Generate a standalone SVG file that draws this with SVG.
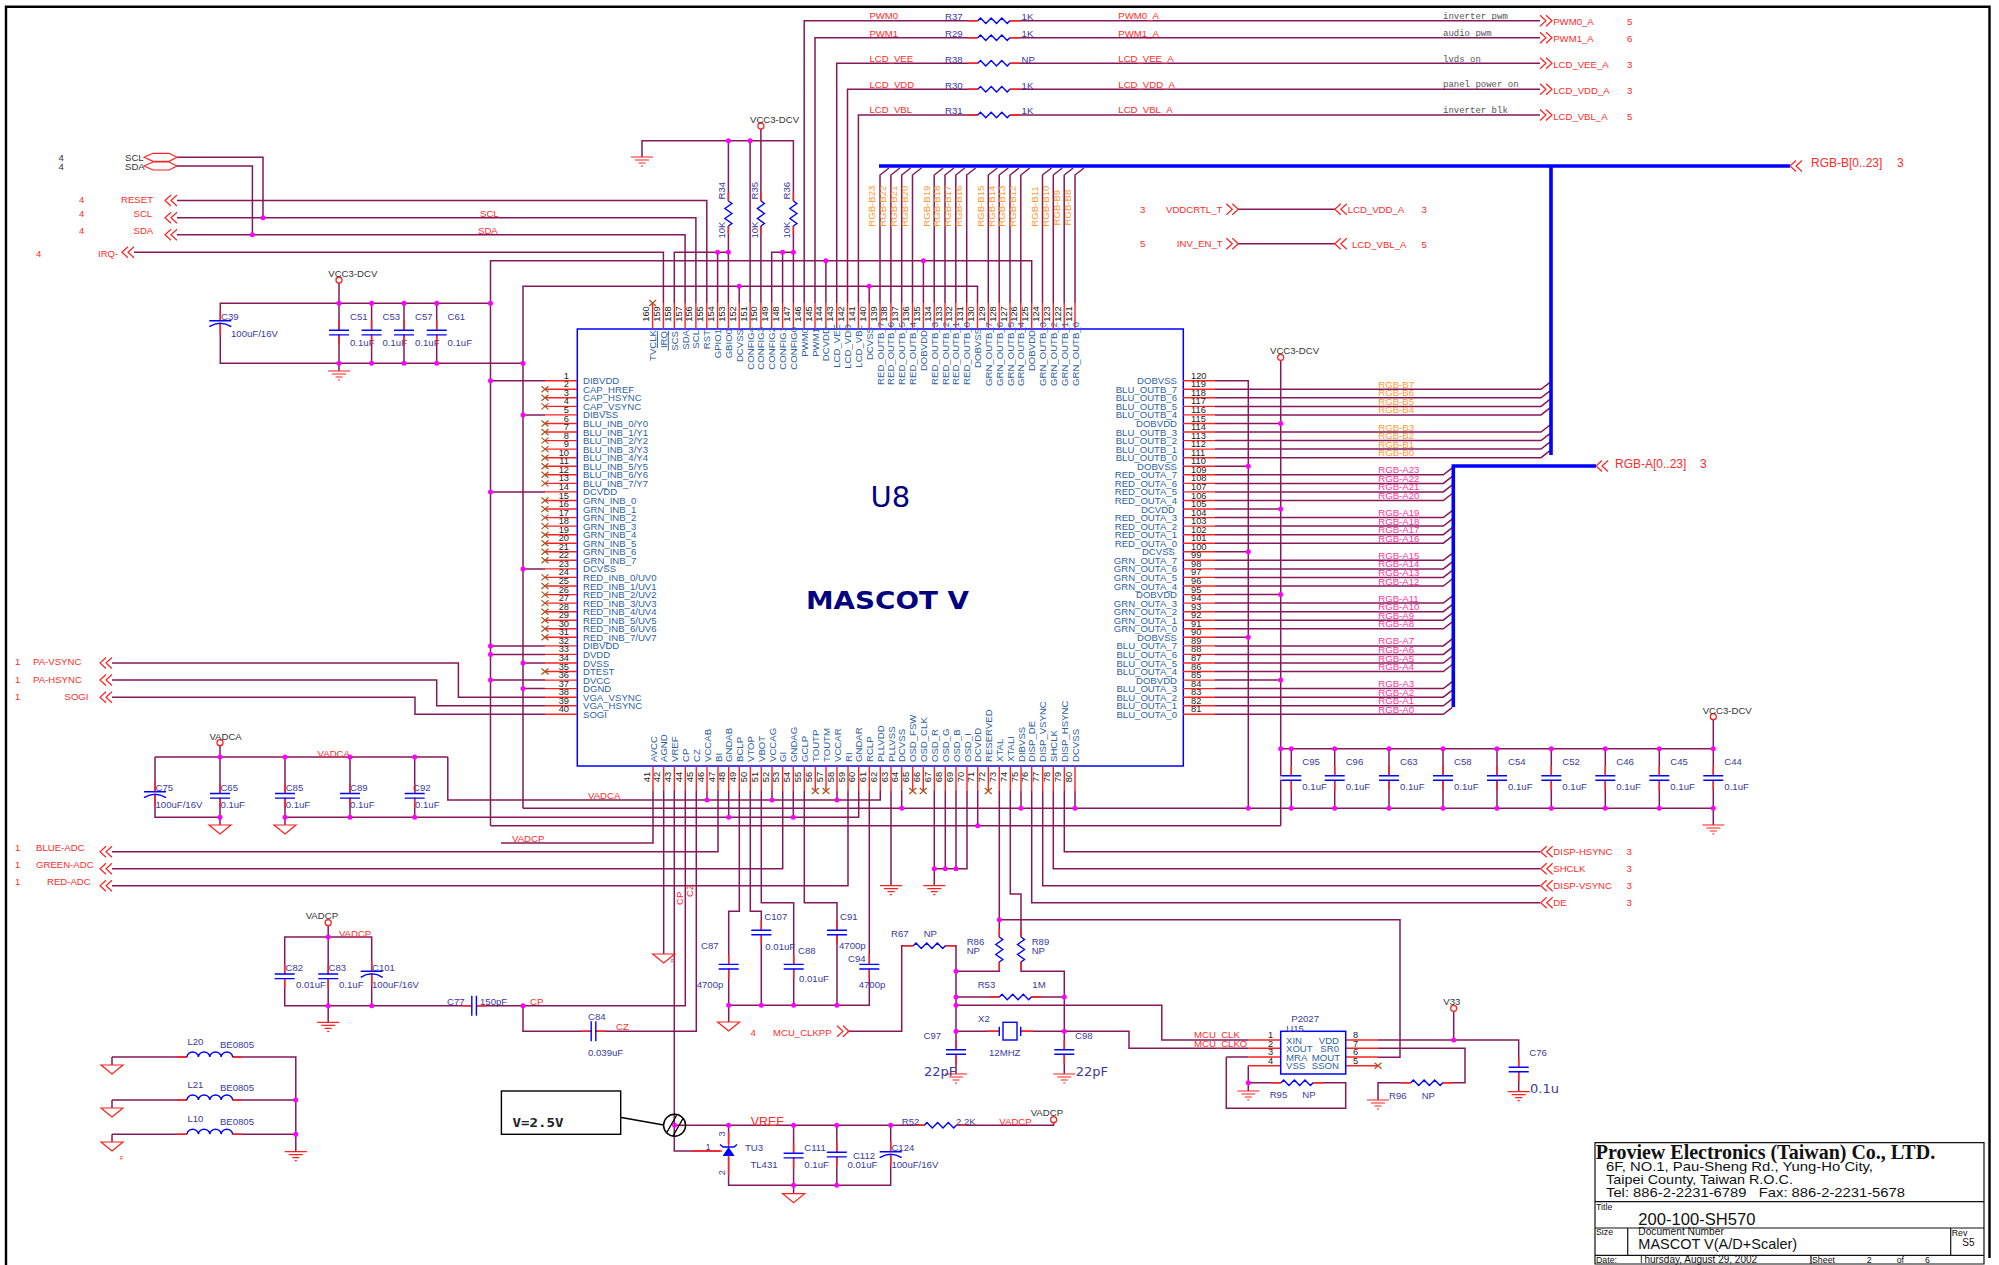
<svg xmlns="http://www.w3.org/2000/svg" width="1999" height="1265" viewBox="0 0 1999 1265">
<style>
text{font-family:"Liberation Sans",Arial,sans-serif;font-size:9.6px;dominant-baseline:central;fill:#2f5f9f}
.n text,text.n{font-size:9.3px;fill:#222}
.r text,text.r{fill:#ff2a2a}
.p text,text.p{fill:#3a3a9c}
.k text,text.k{fill:#333}
.o text,text.o{fill:#ff9a33}
.h text,text.h{fill:#ff3399}
.m text,text.m{font-family:"Liberation Mono",monospace;font-size:9px;fill:#555}
.big{font-family:"DejaVu Sans",sans-serif;font-size:13px;fill:#2a2a9c}
.w{fill:none;stroke:#85185a;stroke-width:1.5}
.s{fill:none;stroke:#ff2020;stroke-width:1.4}
.b{fill:none;stroke:#0000ff;stroke-width:1.4}
.bus{fill:none;stroke:#0000ff;stroke-width:3.6}
.d{fill:none;stroke:#ff00ff;stroke-width:5;stroke-linecap:round}
.blk{fill:none;stroke:#000;stroke-width:1.4}
.fr{fill:none;stroke:#000;stroke-width:2.4}
.tb{fill:none;stroke:#111;stroke-width:1.2}
.tt text{fill:#111}
</style>
<defs>
<g id="c"><rect x="-11" y="-2" width="22" height="4" fill="#fff"/><path class="s" d="M0,-12V-2M0,2V12"/><path class="b" d="M-10,-2.3H10M-10,2.3H10"/></g>
<g id="e"><rect x="-11" y="0" width="22" height="3" fill="#fff"/><path class="s" d="M0,-10V0M0,3V14"/><path class="b" d="M-11,0H11M-11,6Q0,-1 11,6"/></g>
<g id="rh"><rect x="0" y="-3" width="32" height="6" fill="#fff"/><path class="s" d="M-10,0H0M32,0H42"/><path class="b" d="M0,0L2.7,-2.7L8,2.7L13.4,-2.7L18.7,2.7L24,-2.7L29.4,2.7L32,0"/></g>
<g id="rv"><rect x="-4" y="0" width="8" height="25" fill="#fff"/><path class="s" d="M0,-8V0M0,25V33"/><path class="b" d="M0,0L3.5,2.5L-3.5,7.5L3.5,12.5L-3.5,17.5L3.5,22.5L0,25"/></g>
<g id="l"><rect x="0" y="-6" width="45.6" height="7" fill="#fff"/><path class="s" d="M-10,0H0M45.6,0H55"/><path class="b" d="M0,0a5.7,5 0 0 1 11.4,0a5.7,5 0 0 1 11.4,0a5.7,5 0 0 1 11.4,0a5.7,5 0 0 1 11.4,0"/></g>
<path id="g" fill="none" stroke="#ff2020" stroke-width="1.2" d="M-11,0H11M-7,3H7M-3.5,6H3.5M-1,9H1"/>
<path id="t" fill="none" stroke="#ff2020" stroke-width="1.2" d="M-11,0H11L0,9Z"/>
<circle id="v" r="3" fill="#fff" stroke="#ff2020" stroke-width="1.3"/>
<path id="x" fill="none" stroke="#a8551a" stroke-width="1.2" d="M-3.5,-3L3.5,3M-3.5,3L3.5,-3"/>
<path id="al" fill="none" stroke="#ff2020" stroke-width="1.2" d="M6,-5.5L0,0L6,5.5M12,-5.5L6,0L12,5.5"/>
<path id="ar" fill="none" stroke="#ff2020" stroke-width="1.2" d="M0,-5.5L6,0L0,5.5M6,-5.5L12,0L6,5.5"/>
</defs>

<path id="frame" class="fr" d="M6,1265V6.7H1989.5V1258"/>

<g id="connectors">
<path class="w" d="M177,157.3H263V217.7M177,166H252.4V234.7M177,200.5H706.8V303M177,217.7H695.9V303M177,234.7H685.1V303M134,252.3H663.4V303M674.3,303V252.3H728.4M717.6,303V252.3M642,157V140.7H793.4V303M728.4,303V140.7M750.1,140.7V303M760.9,129V303M771.7,303V252.3H793.4M782.6,303V252.3"/>
<path class="w" d="M804.2,303V20.7H1540M815,303V37.7H1540M836.7,303V63.3H1540M847.5,303V89.3H1540M858.4,303V115H1540M1238,209.3H1335M1238,243.7H1335"/>
<path class="w" d="M523,808.3V286.3H977.5V303M739.2,286.3V303M869.2,286.3V303M490.5,825.7V260.7H1031.7V303M825.9,260.7V303M923.4,260.7V303M490.5,303.3H220.3V363.3H523M339,283V371M371.6,303.3V363.3M404,303.3V363.3M436.7,303.3V363.3"/>
<path class="w" d="M880,303V175l9,-7M890.9,303V175l9,-7M901.7,303V175l9,-7M912.5,303V175l9,-7M934.2,303V175l9,-7M945,303V175l9,-7M955.8,303V175l9,-7M966.7,303V175l9,-7M988.3,303V175l9,-7M999.2,303V175l9,-7M1010,303V175l9,-7M1020.8,303V175l9,-7M1042.5,303V175l9,-7M1053.3,303V175l9,-7M1064.2,303V175l9,-7M1075,303V175l9,-7"/>
<path class="w" d="M490.5,380.7H545M523,414.9H545M490.5,491.9H545M523,568.9H545M490.5,645.9H545M490.5,654.4H545M523,663H545M490.5,680.1H545M523,688.6H545M112,663H458.4V697.2H545M112,680H436.7V705.8H545M112,697.3H415V714.3H545"/>
<path class="w" d="M1215,380.7H1248.3V808.3M1215,466.2H1248.3M1215,551.8H1248.3M1215,637.3H1248.3M1280.7,360V825.7M1215,423.5H1280.7M1215,509H1280.7M1215,594.6H1280.7M1215,680.1H1280.7"/>
<path class="w" d="M1215,389.3H1541l9,-7M1215,397.8H1541l9,-7M1215,406.4H1541l9,-7M1215,414.9H1541l9,-7M1215,432H1541l9,-7M1215,440.6H1541l9,-7M1215,449.1H1541l9,-7M1215,457.7H1541l9,-7"/>
<path class="w" d="M1215,474.8H1443.3l9,-7M1215,483.4H1443.3l9,-7M1215,491.9H1443.3l9,-7M1215,500.5H1443.3l9,-7M1215,517.6H1443.3l9,-7M1215,526.1H1443.3l9,-7M1215,534.7H1443.3l9,-7M1215,543.2H1443.3l9,-7M1215,560.3H1443.3l9,-7M1215,568.9H1443.3l9,-7M1215,577.4H1443.3l9,-7M1215,586H1443.3l9,-7M1215,603.1H1443.3l9,-7M1215,611.7H1443.3l9,-7M1215,620.2H1443.3l9,-7M1215,628.8H1443.3l9,-7M1215,645.9H1443.3l9,-7M1215,654.4H1443.3l9,-7M1215,663H1443.3l9,-7M1215,671.5H1443.3l9,-7M1215,688.6H1443.3l9,-7M1215,697.2H1443.3l9,-7M1215,705.8H1443.3l9,-7M1215,714.3H1443.3l9,-7"/>
<path class="bus" d="M879,166H1790M1551,166V455M1596,466H1453.3V707"/>
<path class="w" d="M1248.3,808.3H1713.3M1280.7,748.7H1713.3M1713.3,719.7V825M1291.3,748.7V808.3M1334.7,748.7V808.3M1389,748.7V808.3M1443,748.7V808.3M1497,748.7V808.3M1551.3,748.7V808.3M1605.3,748.7V808.3M1659.3,748.7V808.3"/>
<path class="w" d="M523,808.3H1248.3M490.5,825.7H1280.7M901.7,791V808.3M1021,791V808.3M1075,791V808.3M977.7,791V825.7"/>
<path class="w" d="M653,791V843H501M663.7,791V954M674.3,791V1151H728.6M685.3,791V1005.7H284.7V937H371.7V1005.7M696.3,791V1031.3H523V1005.7M328.2,926V1022M718,791V851.7H112M782.7,791V868.7H112M848,791V885.7H112"/>
<path class="w" d="M447.8,757V800H880.3V791M707,791V800M772,791V800M837,791V800M155,757H447.8M155,757V817.3H220M220,746V825M285,757V825M350,757V817.3M414.7,757V817.3M285,817.3H858.7V791M728.7,791V817.3M793.3,791V817.3"/>
<path class="w" d="M739.3,791V911.3H728.7V1022M750.3,791V911.3H761.3V1005.3M761.3,791V902.7H793.7V1005.3M804.3,791V902.7H837V1005.3M869.3,791V1005.3H728.7M891,791V885.7M934.3,791V885.7M945.3,791V868.7M956,791V868.7M967,791V868.7H934.3"/>
<path class="w" d="M999.3,791V971.3H956M999.3,919.7H1400V1057.3H1378M1010.3,791V894H1021V971.3H1064.3V1074M1031.7,791V902.7H1540M1042.7,791V885.7H1540M1053.3,791V868.7H1540M1064.3,791V851.7H1540M847.5,1031.3H901.7V945.7H956V1074M956,997H1064.3M956,1005.3H1161.8V1040H1248.3M956,1031.3H999M1020.7,1031.3H1129V1048.3H1248.3M1226.3,1057H1248.3M1226.3,1057V1108.3H1345.7V1082.7H1248.3M1248.3,1065.7V1091M1378,1040H1518.7V1091.7M1453.7,1011V1040M1378,1048.3H1465V1082.7H1378V1100"/>
<path class="w" d="M674.6,1125.3H1053.6V1122M728.6,1125.3V1185.3H890.7V1125.3M793.6,1125.3V1193.7M836.8,1125.3V1185.3M112,1057H295.8V1151.7M112,1100H295.8M112,1134.3H295.8M112,1057V1065M112,1100V1108M112,1134.3V1142"/>
<path class="d" d="M263,217.7h0M252.4,234.7h0M717.6,252.3h0M728.4,252.3h0M728.4,140.7h0M750.1,140.7h0M782.6,252.3h0M793.4,252.3h0M739.2,286.3h0M869.2,286.3h0M825.9,260.7h0M923.4,260.7h0M339,303.3h0M371.6,303.3h0M404,303.3h0M436.7,303.3h0M490.5,303.3h0M339,363.3h0M371.6,363.3h0M404,363.3h0M436.7,363.3h0M523,363.3h0M490.5,380.7h0M523,414.9h0M490.5,491.9h0M523,568.9h0M490.5,645.9h0M490.5,654.4h0M523,663h0M490.5,680.1h0M523,688.6h0M1248.3,466.2h0M1248.3,551.8h0M1248.3,637.3h0M1280.7,423.5h0M1280.7,509h0M1280.7,594.6h0M1280.7,680.1h0"/>
<path class="d" d="M1280.7,748.7h0M1291.3,748.7h0M1334.7,748.7h0M1389,748.7h0M1443,748.7h0M1497,748.7h0M1551.3,748.7h0M1605.3,748.7h0M1659.3,748.7h0M1713.3,748.7h0M1248.3,808.3h0M1291.3,808.3h0M1334.7,808.3h0M1389,808.3h0M1443,808.3h0M1497,808.3h0M1551.3,808.3h0M1605.3,808.3h0M1659.3,808.3h0M1713.3,808.3h0M220,757h0M285,757h0M350,757h0M414.7,757h0M220,817.3h0M285,817.3h0M350,817.3h0M414.7,817.3h0M707,800h0M772,800h0M837,800h0M728.7,817.3h0M793.3,817.3h0M901.7,808.3h0M1021,808.3h0M1075,808.3h0M977.7,825.7h0M934.3,868.7h0M945.3,868.7h0M956,868.7h0M999.3,919.7h0M956,971.3h0M956,997h0M1064.3,997h0M956,1005.3h0M956,1031.3h0M1064.3,1031.3h0M728.7,1005.3h0M761.3,1005.3h0M793.7,1005.3h0M837,1005.3h0M328.2,937h0M328.2,1005.7h0M371.7,1005.7h0M523,1005.7h0M295.8,1100h0M295.8,1134.3h0M674.6,1125.3h0M728.6,1125.3h0M793.6,1125.3h0M836.8,1125.3h0M890.7,1125.3h0M793.6,1185.3h0M836.8,1185.3h0M1248.3,1082.7h0M1453.7,1040h0"/>
</g>

<g id="U8">
<rect x="577.3" y="329" width="606" height="437" fill="none" stroke="#0000ff" stroke-width="1.5"/>
<path class="s" d="M545,380.7H577M545,389.3H577M545,397.8H577M545,406.4H577M545,414.9H577M545,423.5H577M545,432H577M545,440.6H577M545,449.1H577M545,457.7H577M545,466.2H577M545,474.8H577M545,483.4H577M545,491.9H577M545,500.5H577M545,509H577M545,517.6H577M545,526.1H577M545,534.7H577M545,543.2H577M545,551.8H577M545,560.3H577M545,568.9H577M545,577.4H577M545,586H577M545,594.6H577M545,603.1H577M545,611.7H577M545,620.2H577M545,628.8H577M545,637.3H577M545,645.9H577M545,654.4H577M545,663H577M545,671.5H577M545,680.1H577M545,688.6H577M545,697.2H577M545,705.8H577M545,714.3H577"/>
<path class="s" d="M1183,380.7H1215M1183,389.3H1215M1183,397.8H1215M1183,406.4H1215M1183,414.9H1215M1183,423.5H1215M1183,432H1215M1183,440.6H1215M1183,449.1H1215M1183,457.7H1215M1183,466.2H1215M1183,474.8H1215M1183,483.4H1215M1183,491.9H1215M1183,500.5H1215M1183,509H1215M1183,517.6H1215M1183,526.1H1215M1183,534.7H1215M1183,543.2H1215M1183,551.8H1215M1183,560.3H1215M1183,568.9H1215M1183,577.4H1215M1183,586H1215M1183,594.6H1215M1183,603.1H1215M1183,611.7H1215M1183,620.2H1215M1183,628.8H1215M1183,637.3H1215M1183,645.9H1215M1183,654.4H1215M1183,663H1215M1183,671.5H1215M1183,680.1H1215M1183,688.6H1215M1183,697.2H1215M1183,705.8H1215M1183,714.3H1215"/>
<path class="s" d="M652.6,303V329M663.4,303V329M674.3,303V329M685.1,303V329M695.9,303V329M706.8,303V329M717.6,303V329M728.4,303V329M739.2,303V329M750.1,303V329M760.9,303V329M771.7,303V329M782.6,303V329M793.4,303V329M804.2,303V329M815,303V329M825.9,303V329M836.7,303V329M847.5,303V329M858.4,303V329M869.2,303V329M880,303V329M890.9,303V329M901.7,303V329M912.5,303V329M923.4,303V329M934.2,303V329M945,303V329M955.8,303V329M966.7,303V329M977.5,303V329M988.3,303V329M999.2,303V329M1010,303V329M1020.8,303V329M1031.7,303V329M1042.5,303V329M1053.3,303V329M1064.2,303V329M1075,303V329"/>
<path class="s" d="M653,766V791M663.7,766V791M674.3,766V791M685.3,766V791M696.3,766V791M707,766V791M718,766V791M728.7,766V791M739.3,766V791M750.3,766V791M761.3,766V791M772,766V791M782.7,766V791M793.3,766V791M804.3,766V791M815.3,766V791M826,766V791M837,766V791M848,766V791M858.7,766V791M869.3,766V791M880.3,766V791M891,766V791M901.7,766V791M912.7,766V791M923.3,766V791M934.3,766V791M945.3,766V791M956,766V791M967,766V791M977.7,766V791M988.3,766V791M999.3,766V791M1010.3,766V791M1021,766V791M1031.7,766V791M1042.7,766V791M1053.3,766V791M1064.3,766V791M1075,766V791"/>
<g id="U8-nc">
<use href="#x" x="545" y="389.3"/><use href="#x" x="545" y="397.8"/><use href="#x" x="545" y="406.4"/><use href="#x" x="545" y="423.5"/><use href="#x" x="545" y="432"/><use href="#x" x="545" y="440.6"/><use href="#x" x="545" y="449.1"/><use href="#x" x="545" y="457.7"/><use href="#x" x="545" y="466.2"/><use href="#x" x="545" y="474.8"/><use href="#x" x="545" y="483.4"/><use href="#x" x="545" y="500.5"/><use href="#x" x="545" y="509"/><use href="#x" x="545" y="517.6"/><use href="#x" x="545" y="526.1"/><use href="#x" x="545" y="534.7"/><use href="#x" x="545" y="543.2"/><use href="#x" x="545" y="551.8"/><use href="#x" x="545" y="560.3"/><use href="#x" x="545" y="577.4"/><use href="#x" x="545" y="586"/><use href="#x" x="545" y="594.6"/><use href="#x" x="545" y="603.1"/><use href="#x" x="545" y="611.7"/><use href="#x" x="545" y="620.2"/><use href="#x" x="545" y="628.8"/><use href="#x" x="545" y="637.3"/><use href="#x" x="545" y="671.5"/>
<use href="#x" x="652.6" y="303"/><use href="#x" x="815.3" y="791"/><use href="#x" x="826" y="791"/><use href="#x" x="912.7" y="791"/><use href="#x" x="923.3" y="791"/><use href="#x" x="988.3" y="791"/><use href="#x" x="1378" y="1065.7"/>
</g>
<g id="U8-left-labels">
<text x="583" y="380.7">DIBVDD</text><text x="583" y="389.3">CAP_HREF</text><text x="583" y="397.8">CAP_HSYNC</text><text x="583" y="406.4">CAP_VSYNC</text><text x="583" y="414.9">DIBVSS</text><text x="583" y="423.5">BLU_INB_0/Y0</text><text x="583" y="432">BLU_INB_1/Y1</text><text x="583" y="440.6">BLU_INB_2/Y2</text><text x="583" y="449.1">BLU_INB_3/Y3</text><text x="583" y="457.7">BLU_INB_4/Y4</text><text x="583" y="466.2">BLU_INB_5/Y5</text><text x="583" y="474.8">BLU_INB_6/Y6</text><text x="583" y="483.4">BLU_INB_7/Y7</text><text x="583" y="491.9">DCVDD</text><text x="583" y="500.5">GRN_INB_0</text><text x="583" y="509">GRN_INB_1</text><text x="583" y="517.6">GRN_INB_2</text><text x="583" y="526.1">GRN_INB_3</text><text x="583" y="534.7">GRN_INB_4</text><text x="583" y="543.2">GRN_INB_5</text><text x="583" y="551.8">GRN_INB_6</text><text x="583" y="560.3">GRN_INB_7</text><text x="583" y="568.9">DCVSS</text><text x="583" y="577.4">RED_INB_0/UV0</text><text x="583" y="586">RED_INB_1/UV1</text><text x="583" y="594.6">RED_INB_2/UV2</text><text x="583" y="603.1">RED_INB_3/UV3</text><text x="583" y="611.7">RED_INB_4/UV4</text><text x="583" y="620.2">RED_INB_5/UV5</text><text x="583" y="628.8">RED_INB_6/UV6</text><text x="583" y="637.3">RED_INB_7/UV7</text><text x="583" y="645.9">DIBVDD</text><text x="583" y="654.4">DVDD</text><text x="583" y="663">DVSS</text><text x="583" y="671.5">DTEST</text><text x="583" y="680.1">DVCC</text><text x="583" y="688.6">DGND</text><text x="583" y="697.2">VGA_VSYNC</text><text x="583" y="705.8">VGA_HSYNC</text><text x="583" y="714.3">SOGI</text>
</g>
<g id="U8-left-numbers" class="n" text-anchor="end">
<text x="569" y="375.7">1</text><text x="569" y="384.3">2</text><text x="569" y="392.8">3</text><text x="569" y="401.4">4</text><text x="569" y="409.9">5</text><text x="569" y="418.5">6</text><text x="569" y="427">7</text><text x="569" y="435.6">8</text><text x="569" y="444.1">9</text><text x="569" y="452.7">10</text><text x="569" y="461.2">11</text><text x="569" y="469.8">12</text><text x="569" y="478.4">13</text><text x="569" y="486.9">14</text><text x="569" y="495.5">15</text><text x="569" y="504">16</text><text x="569" y="512.6">17</text><text x="569" y="521.1">18</text><text x="569" y="529.7">19</text><text x="569" y="538.2">20</text><text x="569" y="546.8">21</text><text x="569" y="555.3">22</text><text x="569" y="563.9">23</text><text x="569" y="572.4">24</text><text x="569" y="581">25</text><text x="569" y="589.6">26</text><text x="569" y="598.1">27</text><text x="569" y="606.7">28</text><text x="569" y="615.2">29</text><text x="569" y="623.8">30</text><text x="569" y="632.3">31</text><text x="569" y="640.9">32</text><text x="569" y="649.4">33</text><text x="569" y="658">34</text><text x="569" y="666.5">35</text><text x="569" y="675.1">36</text><text x="569" y="683.6">37</text><text x="569" y="692.2">38</text><text x="569" y="700.8">39</text><text x="569" y="709.3">40</text>
</g>
<g id="U8-right-labels" text-anchor="end">
<text x="1177" y="380.7">DOBVSS</text><text x="1177" y="389.3">BLU_OUTB_7</text><text x="1177" y="397.8">BLU_OUTB_6</text><text x="1177" y="406.4">BLU_OUTB_5</text><text x="1177" y="414.9">BLU_OUTB_4</text><text x="1177" y="423.5">DOBVDD</text><text x="1177" y="432">BLU_OUTB_3</text><text x="1177" y="440.6">BLU_OUTB_2</text><text x="1177" y="449.1">BLU_OUTB_1</text><text x="1177" y="457.7">BLU_OUTB_0</text><text x="1177" y="466.2">DOBVSS</text><text x="1177" y="474.8">RED_OUTA_7</text><text x="1177" y="483.4">RED_OUTA_6</text><text x="1177" y="491.9">RED_OUTA_5</text><text x="1177" y="500.5">RED_OUTA_4</text><text x="1175" y="509">DCVDD</text><text x="1177" y="517.6">RED_OUTA_3</text><text x="1177" y="526.1">RED_OUTA_2</text><text x="1177" y="534.7">RED_OUTA_1</text><text x="1177" y="543.2">RED_OUTA_0</text><text x="1175" y="551.8">DCVSS</text><text x="1177" y="560.3">GRN_OUTA_7</text><text x="1177" y="568.9">GRN_OUTA_6</text><text x="1177" y="577.4">GRN_OUTA_5</text><text x="1177" y="586">GRN_OUTA_4</text><text x="1177" y="594.6">DOBVDD</text><text x="1177" y="603.1">GRN_OUTA_3</text><text x="1177" y="611.7">GRN_OUTA_2</text><text x="1177" y="620.2">GRN_OUTA_1</text><text x="1177" y="628.8">GRN_OUTA_0</text><text x="1177" y="637.3">DOBVSS</text><text x="1177" y="645.9">BLU_OUTA_7</text><text x="1177" y="654.4">BLU_OUTA_6</text><text x="1177" y="663">BLU_OUTA_5</text><text x="1177" y="671.5">BLU_OUTA_4</text><text x="1177" y="680.1">DOBVDD</text><text x="1177" y="688.6">BLU_OUTA_3</text><text x="1177" y="697.2">BLU_OUTA_2</text><text x="1177" y="705.8">BLU_OUTA_1</text><text x="1177" y="714.3">BLU_OUTA_0</text>
</g>
<g id="U8-right-numbers" class="n">
<text x="1191" y="375.7">120</text><text x="1191" y="384.3">119</text><text x="1191" y="392.8">118</text><text x="1191" y="401.4">117</text><text x="1191" y="409.9">116</text><text x="1191" y="418.5">115</text><text x="1191" y="427">114</text><text x="1191" y="435.6">113</text><text x="1191" y="444.1">112</text><text x="1191" y="452.7">111</text><text x="1191" y="461.2">110</text><text x="1191" y="469.8">109</text><text x="1191" y="478.4">108</text><text x="1191" y="486.9">107</text><text x="1191" y="495.5">106</text><text x="1191" y="504">105</text><text x="1191" y="512.6">104</text><text x="1191" y="521.1">103</text><text x="1191" y="529.7">102</text><text x="1191" y="538.2">101</text><text x="1191" y="546.8">100</text><text x="1191" y="555.3">99</text><text x="1191" y="563.9">98</text><text x="1191" y="572.4">97</text><text x="1191" y="581">96</text><text x="1191" y="589.6">95</text><text x="1191" y="598.1">94</text><text x="1191" y="606.7">93</text><text x="1191" y="615.2">92</text><text x="1191" y="623.8">91</text><text x="1191" y="632.3">90</text><text x="1191" y="640.9">89</text><text x="1191" y="649.4">88</text><text x="1191" y="658">87</text><text x="1191" y="666.5">86</text><text x="1191" y="675.1">85</text><text x="1191" y="683.6">84</text><text x="1191" y="692.2">83</text><text x="1191" y="700.8">82</text><text x="1191" y="709.3">81</text>
</g>
<g id="U8-top-labels" text-anchor="end">
<text x="652.6" y="330" transform="rotate(-90 652.6 330)">TVCLK</text>
<text x="663.4" y="331" transform="rotate(-90 663.4 331)" text-decoration="overline">IRQ</text>
<text x="674.3" y="331" transform="rotate(-90 674.3 331)" text-decoration="overline">SCS</text>
<text x="685.1" y="330" transform="rotate(-90 685.1 330)">SDA</text>
<text x="695.9" y="330" transform="rotate(-90 695.9 330)">SCL</text>
<text x="706.8" y="330" transform="rotate(-90 706.8 330)">RST</text>
<text x="717.6" y="329" transform="rotate(-90 717.6 329)">GPIO1</text>
<text x="728.4" y="329" transform="rotate(-90 728.4 329)">GBIO0</text>
<text x="739.2" y="329" transform="rotate(-90 739.2 329)">DCVSS</text>
<text x="750.1" y="327" transform="rotate(-90 750.1 327)">CONFIG4</text>
<text x="760.9" y="327" transform="rotate(-90 760.9 327)">CONFIG3</text>
<text x="771.7" y="327" transform="rotate(-90 771.7 327)">CONFIG2</text>
<text x="782.6" y="327" transform="rotate(-90 782.6 327)">CONFIG1</text>
<text x="793.4" y="327" transform="rotate(-90 793.4 327)">CONFIG0</text>
<text x="804.2" y="328" transform="rotate(-90 804.2 328)">PWM0</text>
<text x="815" y="328" transform="rotate(-90 815 328)">PWM1</text>
<text x="825.9" y="327" transform="rotate(-90 825.9 327)">DCVDD</text>
<text x="836.7" y="324" transform="rotate(-90 836.7 324)">LCD_VEE</text>
<text x="847.5" y="324" transform="rotate(-90 847.5 324)">LCD_VDD</text>
<text x="858.4" y="325" transform="rotate(-90 858.4 325)">LCD_VBL</text>
<text x="869.2" y="327" transform="rotate(-90 869.2 327)">DCVSS</text>
<text x="880" y="322" transform="rotate(-90 880 322)">RED_OUTB_7</text>
<text x="890.9" y="322" transform="rotate(-90 890.9 322)">RED_OUTB_6</text>
<text x="901.7" y="322" transform="rotate(-90 901.7 322)">RED_OUTB_5</text>
<text x="912.5" y="322" transform="rotate(-90 912.5 322)">RED_OUTB_4</text>
<text x="923.4" y="330" transform="rotate(-90 923.4 330)">DOBVDD</text>
<text x="934.2" y="322" transform="rotate(-90 934.2 322)">RED_OUTB_3</text>
<text x="945" y="322" transform="rotate(-90 945 322)">RED_OUTB_2</text>
<text x="955.8" y="322" transform="rotate(-90 955.8 322)">RED_OUTB_1</text>
<text x="966.7" y="322" transform="rotate(-90 966.7 322)">RED_OUTB_0</text>
<text x="977.5" y="328" transform="rotate(-90 977.5 328)">DOBVSS</text>
<text x="988.3" y="322" transform="rotate(-90 988.3 322)">GRN_OUTB_7</text>
<text x="999.2" y="322" transform="rotate(-90 999.2 322)">GRN_OUTB_6</text>
<text x="1010" y="322" transform="rotate(-90 1010 322)">GRN_OUTB_5</text>
<text x="1020.8" y="322" transform="rotate(-90 1020.8 322)">GRN_OUTB_4</text>
<text x="1031.7" y="330" transform="rotate(-90 1031.7 330)">DOBVDD</text>
<text x="1042.5" y="322" transform="rotate(-90 1042.5 322)">GRN_OUTB_3</text>
<text x="1053.3" y="322" transform="rotate(-90 1053.3 322)">GRN_OUTB_2</text>
<text x="1064.2" y="322" transform="rotate(-90 1064.2 322)">GRN_OUTB_1</text>
<text x="1075" y="322" transform="rotate(-90 1075 322)">GRN_OUTB_0</text>
</g>
<g id="U8-top-numbers" class="n" text-anchor="middle">
<text x="646.1" y="314" transform="rotate(-90 646.1 314)">160</text><text x="656.9" y="314" transform="rotate(-90 656.9 314)">159</text><text x="667.8" y="314" transform="rotate(-90 667.8 314)">158</text><text x="678.6" y="314" transform="rotate(-90 678.6 314)">157</text><text x="689.4" y="314" transform="rotate(-90 689.4 314)">156</text><text x="700.3" y="314" transform="rotate(-90 700.3 314)">155</text><text x="711.1" y="314" transform="rotate(-90 711.1 314)">154</text><text x="721.9" y="314" transform="rotate(-90 721.9 314)">153</text><text x="732.7" y="314" transform="rotate(-90 732.7 314)">152</text><text x="743.6" y="314" transform="rotate(-90 743.6 314)">151</text><text x="754.4" y="314" transform="rotate(-90 754.4 314)">150</text><text x="765.2" y="314" transform="rotate(-90 765.2 314)">149</text><text x="776.1" y="314" transform="rotate(-90 776.1 314)">148</text><text x="786.9" y="314" transform="rotate(-90 786.9 314)">147</text><text x="797.7" y="314" transform="rotate(-90 797.7 314)">146</text><text x="808.5" y="314" transform="rotate(-90 808.5 314)">145</text><text x="819.4" y="314" transform="rotate(-90 819.4 314)">144</text><text x="830.2" y="314" transform="rotate(-90 830.2 314)">143</text><text x="841" y="314" transform="rotate(-90 841 314)">142</text><text x="851.9" y="314" transform="rotate(-90 851.9 314)">141</text><text x="862.7" y="314" transform="rotate(-90 862.7 314)">140</text><text x="873.5" y="314" transform="rotate(-90 873.5 314)">139</text><text x="884.4" y="314" transform="rotate(-90 884.4 314)">138</text><text x="895.2" y="314" transform="rotate(-90 895.2 314)">137</text><text x="906" y="314" transform="rotate(-90 906 314)">136</text><text x="916.9" y="314" transform="rotate(-90 916.9 314)">135</text><text x="927.7" y="314" transform="rotate(-90 927.7 314)">134</text><text x="938.5" y="314" transform="rotate(-90 938.5 314)">133</text><text x="949.3" y="314" transform="rotate(-90 949.3 314)">132</text><text x="960.2" y="314" transform="rotate(-90 960.2 314)">131</text><text x="971" y="314" transform="rotate(-90 971 314)">130</text><text x="981.8" y="314" transform="rotate(-90 981.8 314)">129</text><text x="992.7" y="314" transform="rotate(-90 992.7 314)">128</text><text x="1003.5" y="314" transform="rotate(-90 1003.5 314)">127</text><text x="1014.3" y="314" transform="rotate(-90 1014.3 314)">126</text><text x="1025.2" y="314" transform="rotate(-90 1025.2 314)">125</text><text x="1036" y="314" transform="rotate(-90 1036 314)">124</text><text x="1046.8" y="314" transform="rotate(-90 1046.8 314)">123</text><text x="1057.7" y="314" transform="rotate(-90 1057.7 314)">122</text><text x="1068.5" y="314" transform="rotate(-90 1068.5 314)">121</text>
</g>
<g id="U8-bottom-labels">
<text x="653" y="762" transform="rotate(-90 653 762)">AVCC</text><text x="663.7" y="762" transform="rotate(-90 663.7 762)">AGND</text><text x="674.3" y="762" transform="rotate(-90 674.3 762)">VREF</text><text x="685.3" y="762" transform="rotate(-90 685.3 762)">CP</text><text x="696.3" y="762" transform="rotate(-90 696.3 762)">CZ</text><text x="707" y="762" transform="rotate(-90 707 762)">VCCAB</text><text x="718" y="762" transform="rotate(-90 718 762)">BI</text><text x="728.7" y="762" transform="rotate(-90 728.7 762)">GNDAB</text><text x="739.3" y="762" transform="rotate(-90 739.3 762)">BCLP</text><text x="750.3" y="762" transform="rotate(-90 750.3 762)">VTOP</text><text x="761.3" y="762" transform="rotate(-90 761.3 762)">VBOT</text><text x="772" y="762" transform="rotate(-90 772 762)">VCCAG</text><text x="782.7" y="762" transform="rotate(-90 782.7 762)">GI</text><text x="793.3" y="762" transform="rotate(-90 793.3 762)">GNDAG</text><text x="804.3" y="762" transform="rotate(-90 804.3 762)">GCLP</text><text x="815.3" y="762" transform="rotate(-90 815.3 762)">TOUTP</text><text x="826" y="762" transform="rotate(-90 826 762)">TOUTM</text><text x="837" y="762" transform="rotate(-90 837 762)">VCCAR</text><text x="848" y="762" transform="rotate(-90 848 762)">RI</text><text x="858.7" y="762" transform="rotate(-90 858.7 762)">GNDAR</text><text x="869.3" y="762" transform="rotate(-90 869.3 762)">RCLP</text><text x="880.3" y="762" transform="rotate(-90 880.3 762)">PLLVDD</text><text x="891" y="762" transform="rotate(-90 891 762)">PLLVSS</text><text x="901.7" y="762" transform="rotate(-90 901.7 762)">DCVSS</text><text x="912.7" y="762" transform="rotate(-90 912.7 762)">OSD_FSW</text><text x="923.3" y="762" transform="rotate(-90 923.3 762)">OSD_CLK</text><text x="934.3" y="762" transform="rotate(-90 934.3 762)">OSD_R</text><text x="945.3" y="762" transform="rotate(-90 945.3 762)">OSD_G</text><text x="956" y="762" transform="rotate(-90 956 762)">OSD_B</text><text x="967" y="762" transform="rotate(-90 967 762)">OSD_I</text><text x="977.7" y="762" transform="rotate(-90 977.7 762)">DCVDD</text><text x="988.3" y="762" transform="rotate(-90 988.3 762)">RESERVED</text><text x="999.3" y="762" transform="rotate(-90 999.3 762)">XTAL</text><text x="1010.3" y="762" transform="rotate(-90 1010.3 762)">XTALI</text><text x="1021" y="762" transform="rotate(-90 1021 762)">DIBVSS</text><text x="1031.7" y="762" transform="rotate(-90 1031.7 762)">DISP_DE</text><text x="1042.7" y="762" transform="rotate(-90 1042.7 762)">DISP_VSYNC</text><text x="1053.3" y="762" transform="rotate(-90 1053.3 762)">SHCLK</text><text x="1064.3" y="762" transform="rotate(-90 1064.3 762)">DISP_HSYNC</text><text x="1075" y="762" transform="rotate(-90 1075 762)">DCVSS</text>
</g>
<g id="U8-bottom-numbers" class="n" text-anchor="middle">
<text x="646.7" y="777" transform="rotate(-90 646.7 777)">41</text><text x="657.4" y="777" transform="rotate(-90 657.4 777)">42</text><text x="668" y="777" transform="rotate(-90 668 777)">43</text><text x="679" y="777" transform="rotate(-90 679 777)">44</text><text x="690" y="777" transform="rotate(-90 690 777)">45</text><text x="700.7" y="777" transform="rotate(-90 700.7 777)">46</text><text x="711.7" y="777" transform="rotate(-90 711.7 777)">47</text><text x="722.4" y="777" transform="rotate(-90 722.4 777)">48</text><text x="733" y="777" transform="rotate(-90 733 777)">49</text><text x="744" y="777" transform="rotate(-90 744 777)">50</text><text x="755" y="777" transform="rotate(-90 755 777)">51</text><text x="765.7" y="777" transform="rotate(-90 765.7 777)">52</text><text x="776.4" y="777" transform="rotate(-90 776.4 777)">53</text><text x="787" y="777" transform="rotate(-90 787 777)">54</text><text x="798" y="777" transform="rotate(-90 798 777)">55</text><text x="809" y="777" transform="rotate(-90 809 777)">56</text><text x="819.7" y="777" transform="rotate(-90 819.7 777)">57</text><text x="830.7" y="777" transform="rotate(-90 830.7 777)">58</text><text x="841.7" y="777" transform="rotate(-90 841.7 777)">59</text><text x="852.4" y="777" transform="rotate(-90 852.4 777)">60</text><text x="863" y="777" transform="rotate(-90 863 777)">61</text><text x="874" y="777" transform="rotate(-90 874 777)">62</text><text x="884.7" y="777" transform="rotate(-90 884.7 777)">63</text><text x="895.4" y="777" transform="rotate(-90 895.4 777)">64</text><text x="906.4" y="777" transform="rotate(-90 906.4 777)">65</text><text x="917" y="777" transform="rotate(-90 917 777)">66</text><text x="928" y="777" transform="rotate(-90 928 777)">67</text><text x="939" y="777" transform="rotate(-90 939 777)">68</text><text x="949.7" y="777" transform="rotate(-90 949.7 777)">69</text><text x="960.7" y="777" transform="rotate(-90 960.7 777)">70</text><text x="971.4" y="777" transform="rotate(-90 971.4 777)">71</text><text x="982" y="777" transform="rotate(-90 982 777)">72</text><text x="993" y="777" transform="rotate(-90 993 777)">73</text><text x="1004" y="777" transform="rotate(-90 1004 777)">74</text><text x="1014.7" y="777" transform="rotate(-90 1014.7 777)">75</text><text x="1025.4" y="777" transform="rotate(-90 1025.4 777)">76</text><text x="1036.4" y="777" transform="rotate(-90 1036.4 777)">77</text><text x="1047" y="777" transform="rotate(-90 1047 777)">78</text><text x="1058" y="777" transform="rotate(-90 1058 777)">79</text><text x="1068.7" y="777" transform="rotate(-90 1068.7 777)">80</text>
</g>
<text x="870.5" y="497" style="font-family:'DejaVu Sans',sans-serif;font-size:29px;fill:#000080">U8</text>
<text x="806" y="600.5" textLength="163" lengthAdjust="spacingAndGlyphs" style="font-family:'DejaVu Sans',sans-serif;font-weight:bold;font-size:24px;fill:#000080">MASCOT V</text>
</g>

<g id="bus-labels-B-top" class="o">
<text x="872" y="226.7" transform="rotate(-90 872 226.7)">RGB-B23</text><text x="882.9" y="226.7" transform="rotate(-90 882.9 226.7)">RGB-B22</text><text x="893.7" y="226.7" transform="rotate(-90 893.7 226.7)">RGB-B21</text><text x="904.5" y="226.7" transform="rotate(-90 904.5 226.7)">RGB-B20</text><text x="926.2" y="226.7" transform="rotate(-90 926.2 226.7)">RGB-B19</text><text x="937" y="226.7" transform="rotate(-90 937 226.7)">RGB-B18</text><text x="947.8" y="226.7" transform="rotate(-90 947.8 226.7)">RGB-B17</text><text x="958.7" y="226.7" transform="rotate(-90 958.7 226.7)">RGB-B16</text><text x="980.3" y="226.7" transform="rotate(-90 980.3 226.7)">RGB-B15</text><text x="991.2" y="226.7" transform="rotate(-90 991.2 226.7)">RGB-B14</text><text x="1002" y="226.7" transform="rotate(-90 1002 226.7)">RGB-B13</text><text x="1012.8" y="226.7" transform="rotate(-90 1012.8 226.7)">RGB-B12</text><text x="1034.5" y="226.7" transform="rotate(-90 1034.5 226.7)">RGB-B11</text><text x="1045.3" y="226.7" transform="rotate(-90 1045.3 226.7)">RGB-B10</text><text x="1056.2" y="225.5" transform="rotate(-90 1056.2 225.5)">RGB-B9</text><text x="1067" y="225.5" transform="rotate(-90 1067 225.5)">RGB-B8</text>
</g>
<g id="bus-labels-B-right" class="o">
<text x="1378.3" y="384.3">RGB-B7</text><text x="1378.3" y="392.8">RGB-B6</text><text x="1378.3" y="401.4">RGB-B5</text><text x="1378.3" y="409.9">RGB-B4</text><text x="1378.3" y="427">RGB-B3</text><text x="1378.3" y="435.6">RGB-B2</text><text x="1378.3" y="444.1">RGB-B1</text><text x="1378.3" y="452.7">RGB-B0</text>
</g>
<g id="bus-labels-A" class="h">
<text x="1378.3" y="469.8">RGB-A23</text><text x="1378.3" y="478.4">RGB-A22</text><text x="1378.3" y="486.9">RGB-A21</text><text x="1378.3" y="495.5">RGB-A20</text><text x="1378.3" y="512.6">RGB-A19</text><text x="1378.3" y="521.1">RGB-A18</text><text x="1378.3" y="529.7">RGB-A17</text><text x="1378.3" y="538.2">RGB-A16</text><text x="1378.3" y="555.3">RGB-A15</text><text x="1378.3" y="563.9">RGB-A14</text><text x="1378.3" y="572.4">RGB-A13</text><text x="1378.3" y="581">RGB-A12</text><text x="1378.3" y="598.1">RGB-A11</text><text x="1378.3" y="606.7">RGB-A10</text><text x="1378.3" y="615.2">RGB-A9</text><text x="1378.3" y="623.8">RGB-A8</text><text x="1378.3" y="640.9">RGB-A7</text><text x="1378.3" y="649.4">RGB-A6</text><text x="1378.3" y="658">RGB-A5</text><text x="1378.3" y="666.5">RGB-A4</text><text x="1378.3" y="683.6">RGB-A3</text><text x="1378.3" y="692.2">RGB-A2</text><text x="1378.3" y="700.8">RGB-A1</text><text x="1378.3" y="709.3">RGB-A0</text>
</g>

<g id="net-labels" class="r">
<text x="480" y="213">SCL</text><text x="478" y="230">SDA</text>
<text x="869.4" y="15.3">PWM0</text><text x="869.4" y="33">PWM1</text><text x="869.4" y="58.3">LCD_VEE</text><text x="869.4" y="84.3">LCD_VDD</text><text x="869.4" y="109.3">LCD_VBL</text>
<text x="1118.3" y="15.3">PWM0_A</text><text x="1118.3" y="33">PWM1_A</text><text x="1118.3" y="58.3">LCD_VEE_A</text><text x="1118.3" y="84.3">LCD_VDD_A</text><text x="1118.3" y="109.3">LCD_VBL_A</text>
<text x="317.6" y="753">VADCA</text><text x="588" y="795">VADCA</text><text x="512" y="838">VADCP</text><text x="338.9" y="933">VADCP</text>
<text x="530" y="1001">CP</text><text x="616" y="1026.7">CZ</text><text x="679" y="905" transform="rotate(-90 679 905)">CP</text><text x="689" y="897" transform="rotate(-90 689 897)">CZ</text>
<text x="750.7" y="1121.7" style="font-size:12.4px">VREF</text><text x="999.3" y="1121">VADCP</text>
<text x="1194" y="1034.5">MCU_CLK</text><text x="1194" y="1043.8">MCU_CLKO</text>
</g>
<g id="net-notes" class="m">
<text x="1443" y="16.7">inverter pwm</text><text x="1443" y="33.7">audio pwm</text><text x="1443" y="59.7">lvds on</text><text x="1443" y="85">panel power on</text><text x="1443" y="110.7">inverter blk</text>
</g>

<g id="port-SCL"><path fill="none" stroke="#ff2020" stroke-width="1.2" d="M144,157.3L153,153.3H169L177,157.3L169,161.3H153Z"/><text class="k" x="125" y="157">SCL</text><text class="k" x="58.5" y="157.3">4</text></g>
<g id="port-SDA"><path fill="none" stroke="#ff2020" stroke-width="1.2" d="M144,166L153,162H169L177,166L169,170H153Z"/><text class="k" x="125" y="166">SDA</text><text class="k" x="58.5" y="166">4</text></g>
<g id="port-RESET" class="r"><use href="#al" x="165" y="200.5"/><text x="121" y="199">RESET</text><text x="79" y="199">4</text></g>
<g id="port-SCL2" class="r"><use href="#al" x="165" y="217.7"/><text x="133.5" y="213">SCL</text><text x="79" y="213">4</text></g>
<g id="port-SDA2" class="r"><use href="#al" x="165" y="234.7"/><text x="133.5" y="230">SDA</text><text x="79" y="230">4</text></g>
<g id="port-IRQ" class="r"><use href="#al" x="122" y="252.3"/><text x="98" y="253">IRQ-</text><text x="36" y="253">4</text></g>
<g id="port-PA-VSYNC" class="r"><use href="#al" x="100" y="663"/><text x="33" y="661">PA-VSYNC</text><text x="15" y="661">1</text></g>
<g id="port-PA-HSYNC" class="r"><use href="#al" x="100" y="680"/><text x="33" y="679">PA-HSYNC</text><text x="15" y="679">1</text></g>
<g id="port-SOGI" class="r"><use href="#al" x="100" y="697.3"/><text x="64.5" y="696">SOGI</text><text x="15" y="696">1</text></g>
<g id="port-BLUE-ADC" class="r"><use href="#al" x="100" y="851.7"/><text x="36" y="847">BLUE-ADC</text><text x="15" y="847">1</text></g>
<g id="port-GREEN-ADC" class="r"><use href="#al" x="100" y="868.7"/><text x="36" y="864">GREEN-ADC</text><text x="15" y="864">1</text></g>
<g id="port-RED-ADC" class="r"><use href="#al" x="100" y="885.7"/><text x="47" y="881">RED-ADC</text><text x="15" y="881">1</text></g>
<g id="port-PWM0_A" class="r"><use href="#ar" x="1540" y="20.7"/><text x="1553.2" y="21.3">PWM0_A</text><text x="1627" y="21.3">5</text></g>
<g id="port-PWM1_A" class="r"><use href="#ar" x="1540" y="37.7"/><text x="1553.2" y="38.3">PWM1_A</text><text x="1627" y="38.3">6</text></g>
<g id="port-LCD_VEE_A" class="r"><use href="#ar" x="1540" y="63.3"/><text x="1553.2" y="64.3">LCD_VEE_A</text><text x="1627" y="64.3">3</text></g>
<g id="port-LCD_VDD_A" class="r"><use href="#ar" x="1540" y="89.3"/><text x="1553.2" y="90.3">LCD_VDD_A</text><text x="1627" y="90.3">3</text></g>
<g id="port-LCD_VBL_A" class="r"><use href="#ar" x="1540" y="115"/><text x="1553.2" y="116.3">LCD_VBL_A</text><text x="1627" y="116.3">5</text></g>
<g id="port-RGB-B" class="r"><use href="#al" x="1790" y="166"/><text x="1811" y="163.3" style="font-size:12px">RGB-B[0..23]</text><text x="1897" y="163.3" style="font-size:12px">3</text></g>
<g id="port-RGB-A" class="r"><use href="#al" x="1596" y="466"/><text x="1615" y="463.5" style="font-size:12px">RGB-A[0..23]</text><text x="1700" y="463.5" style="font-size:12px">3</text></g>
<g id="port-VDDCRTL_T" class="r"><use href="#ar" x="1226.3" y="209.3"/><text x="1166" y="209">VDDCRTL_T</text><text x="1140" y="209">3</text></g>
<g id="port-INV_EN_T" class="r"><use href="#ar" x="1226.3" y="243.7"/><text x="1176.8" y="243">INV_EN_T</text><text x="1140" y="243">5</text></g>
<g id="port-LCD_VDD_A2" class="r"><use href="#al" x="1334.8" y="209.3"/><text x="1347.7" y="209">LCD_VDD_A</text><text x="1421.5" y="209">3</text></g>
<g id="port-LCD_VBL_A2" class="r"><use href="#al" x="1334.8" y="243.7"/><text x="1352" y="244">LCD_VBL_A</text><text x="1421.5" y="244">5</text></g>
<g id="port-DISP-HSYNC" class="r"><use href="#al" x="1540.7" y="851.7"/><text x="1553.3" y="851">DISP-HSYNC</text><text x="1626.5" y="851">3</text></g>
<g id="port-SHCLK" class="r"><use href="#al" x="1540.7" y="868.7"/><text x="1553.3" y="868">SHCLK</text><text x="1626.5" y="868">3</text></g>
<g id="port-DISP-VSYNC" class="r"><use href="#al" x="1540.7" y="885.7"/><text x="1553.3" y="885">DISP-VSYNC</text><text x="1626.5" y="885">3</text></g>
<g id="port-DE" class="r"><use href="#al" x="1540.7" y="902.7"/><text x="1553.3" y="902.7">DE</text><text x="1626.5" y="902.7">3</text></g>
<g id="port-MCU_CLKPP" class="r"><use href="#ar" x="837" y="1031.3"/><text x="773" y="1032">MCU_CLKPP</text><text x="750.5" y="1032">4</text></g>

<g id="power" class="k">
<use href="#v" x="339" y="280"/><text x="328.3" y="273.3">VCC3-DCV</text>
<use href="#v" x="760.9" y="126"/><text x="750" y="119">VCC3-DCV</text>
<use href="#v" x="1280.7" y="357.3"/><text x="1270" y="350">VCC3-DCV</text>
<use href="#v" x="1713.3" y="716.7"/><text x="1702.7" y="710">VCC3-DCV</text>
<use href="#v" x="220" y="742.7"/><text x="209.4" y="736">VADCA</text>
<use href="#v" x="328.2" y="922.7"/><text x="305.7" y="915">VADCP</text>
<use href="#v" x="1053.6" y="1119.7"/><text x="1030.7" y="1112">VADCP</text>
<use href="#v" x="1453.7" y="1008.3"/><text x="1443.3" y="1001">V33</text>
</g>
<g id="grounds">
<use href="#g" x="642" y="157"/><use href="#g" x="339" y="371"/><use href="#g" x="1713.3" y="825"/><use href="#g" x="891" y="885.7"/><use href="#g" x="934.3" y="885.7"/><use href="#g" x="328.2" y="1022.3"/><use href="#g" x="295.8" y="1151.7"/><use href="#g" x="956" y="1074"/><use href="#g" x="1064.3" y="1074"/><use href="#g" x="1248.3" y="1091"/><use href="#g" x="1378" y="1100"/><use href="#g" x="1518.7" y="1091.7"/>
<use href="#t" x="220" y="825"/><use href="#t" x="285" y="825"/><use href="#t" x="663.7" y="954"/><use href="#t" x="728.6" y="1022"/><use href="#t" x="793.6" y="1193.7"/><use href="#t" x="112" y="1065"/><use href="#t" x="112" y="1108"/><use href="#t" x="112" y="1142"/>
<text class="r" x="120" y="1158" style="font-size:6px">F</text><text class="r" x="671" y="961" style="font-size:6px">F</text>
</g>

<g id="C39" class="p"><use href="#e" x="220.3" y="320.7"/><text x="221" y="316.3">C39</text><text x="231" y="333.3">100uF/16V</text></g>
<g id="C51" class="p"><use href="#c" x="339" y="332.6"/><text x="350" y="316.3">C51</text><text x="350" y="342.3">0.1uF</text></g>
<g id="C53" class="p"><use href="#c" x="371.6" y="332.6"/><text x="382.5" y="316.3">C53</text><text x="382.5" y="342.3">0.1uF</text></g>
<g id="C57" class="p"><use href="#c" x="404" y="332.6"/><text x="415" y="316.3">C57</text><text x="415" y="342.3">0.1uF</text></g>
<g id="C61" class="p"><use href="#c" x="436.7" y="332.6"/><text x="447.5" y="316.3">C61</text><text x="447.5" y="342.3">0.1uF</text></g>
<g id="R34" class="p"><use href="#rv" x="728.4" y="201"/><text x="721.5" y="190.7" text-anchor="middle" transform="rotate(-90 721.5 190.7)">R34</text><text x="721.5" y="230" text-anchor="middle" transform="rotate(-90 721.5 230)">10K</text></g>
<g id="R35" class="p"><use href="#rv" x="760.9" y="201"/><text x="754.5" y="190.7" text-anchor="middle" transform="rotate(-90 754.5 190.7)">R35</text><text x="754.5" y="230" text-anchor="middle" transform="rotate(-90 754.5 230)">10K</text></g>
<g id="R36" class="p"><use href="#rv" x="793.4" y="201"/><text x="786.6" y="190.7" text-anchor="middle" transform="rotate(-90 786.6 190.7)">R36</text><text x="786.6" y="230" text-anchor="middle" transform="rotate(-90 786.6 230)">10K</text></g>
<g id="R37" class="p"><use href="#rh" x="977.8" y="20.7"/><text x="945" y="16.3">R37</text><text x="1021.6" y="16.3">1K</text></g>
<g id="R29" class="p"><use href="#rh" x="977.8" y="37.7"/><text x="945" y="33.3">R29</text><text x="1021.6" y="33.3">1K</text></g>
<g id="R38" class="p"><use href="#rh" x="977.8" y="63.3"/><text x="945" y="59.3">R38</text><text x="1021.6" y="59.3">NP</text></g>
<g id="R30" class="p"><use href="#rh" x="977.8" y="89.3"/><text x="945" y="85.3">R30</text><text x="1021.6" y="85.3">1K</text></g>
<g id="R31" class="p"><use href="#rh" x="977.8" y="115"/><text x="945" y="110.3">R31</text><text x="1021.6" y="110.3">1K</text></g>
<g id="C95" class="p"><use href="#c" x="1291.3" y="778"/><text x="1302.3" y="761">C95</text><text x="1302.3" y="786.7">0.1uF</text></g>
<g id="C96" class="p"><use href="#c" x="1334.7" y="778"/><text x="1345.7" y="761">C96</text><text x="1345.7" y="786.7">0.1uF</text></g>
<g id="C63" class="p"><use href="#c" x="1389" y="778"/><text x="1400" y="761">C63</text><text x="1400" y="786.7">0.1uF</text></g>
<g id="C58" class="p"><use href="#c" x="1443" y="778"/><text x="1454" y="761">C58</text><text x="1454" y="786.7">0.1uF</text></g>
<g id="C54" class="p"><use href="#c" x="1497" y="778"/><text x="1508" y="761">C54</text><text x="1508" y="786.7">0.1uF</text></g>
<g id="C52" class="p"><use href="#c" x="1551.3" y="778"/><text x="1562.3" y="761">C52</text><text x="1562.3" y="786.7">0.1uF</text></g>
<g id="C46" class="p"><use href="#c" x="1605.3" y="778"/><text x="1616.3" y="761">C46</text><text x="1616.3" y="786.7">0.1uF</text></g>
<g id="C45" class="p"><use href="#c" x="1659.3" y="778"/><text x="1670.3" y="761">C45</text><text x="1670.3" y="786.7">0.1uF</text></g>
<g id="C44" class="p"><use href="#c" x="1713.3" y="778"/><text x="1724.3" y="761">C44</text><text x="1724.3" y="786.7">0.1uF</text></g>
<g id="C75" class="p"><use href="#e" x="155" y="791.7"/><text x="155.5" y="787">C75</text><text x="155.5" y="804">100uF/16V</text></g>
<g id="C65" class="p"><use href="#c" x="220" y="795.8"/><text x="220.4" y="787">C65</text><text x="220.4" y="804">0.1uF</text></g>
<g id="C85" class="p"><use href="#c" x="285" y="795.8"/><text x="285.7" y="787">C85</text><text x="285.7" y="804">0.1uF</text></g>
<g id="C89" class="p"><use href="#c" x="350" y="795.8"/><text x="350" y="787">C89</text><text x="350" y="804">0.1uF</text></g>
<g id="C92" class="p"><use href="#c" x="414.7" y="795.8"/><text x="413" y="787">C92</text><text x="415" y="804">0.1uF</text></g>
<g id="C82" class="p"><use href="#c" x="284.7" y="976.3"/><text x="285.5" y="967">C82</text><text x="296" y="984">0.01uF</text></g>
<g id="C83" class="p"><use href="#c" x="328.2" y="976.3"/><text x="328.5" y="967">C83</text><text x="339" y="984">0.1uF</text></g>
<g id="C101" class="p"><use href="#e" x="371.7" y="971.3"/><text x="372" y="967">C101</text><text x="372" y="984">100uF/16V</text></g>
<g id="C77" class="p"><use href="#c" transform="translate(474.1,1005.7) rotate(90)"/><text x="447" y="1001">C77</text><text x="480" y="1001">150pF</text></g>
<g id="C84" class="p"><use href="#c" transform="translate(593.5,1031.3) rotate(90)"/><text x="588" y="1016">C84</text><text x="588" y="1052">0.039uF</text></g>
<g id="C87" class="p"><use href="#c" x="728.7" y="966.7"/><text x="701" y="945">C87</text><text x="696.7" y="984.3">4700p</text></g>
<g id="C107" class="p"><use href="#c" x="761.3" y="932.5"/><text x="764.3" y="916">C107</text><text x="765.3" y="946">0.01uF</text></g>
<g id="C88" class="p"><use href="#c" x="793.7" y="966.7"/><text x="798" y="950.3">C88</text><text x="799" y="978">0.01uF</text></g>
<g id="C91" class="p"><use href="#c" x="837" y="932.5"/><text x="840" y="916">C91</text><text x="839" y="945">4700p</text></g>
<g id="C94" class="p"><use href="#c" x="869.3" y="966.7"/><text x="848" y="958">C94</text><text x="858.7" y="984.3">4700p</text></g>
<g id="R67" class="p"><use href="#rh" x="913.3" y="945.7"/><text x="891" y="933">R67</text><text x="923.7" y="933">NP</text></g>
<g id="R86" class="p"><use href="#rv" x="999.3" y="937"/><text x="966.7" y="941">R86</text><text x="966.7" y="950">NP</text></g>
<g id="R89" class="p"><use href="#rv" x="1021" y="937"/><text x="1031.7" y="941">R89</text><text x="1031.7" y="950">NP</text></g>
<g id="R53" class="p"><use href="#rh" x="999.3" y="997"/><text x="977.7" y="984">R53</text><text x="1032.3" y="984">1M</text></g>
<g id="X2" class="p"><rect x="999.5" y="1024" width="21" height="15" fill="#fff"/><path class="s" d="M987,1031.3H999M1021,1031.3H1033"/><path class="b" d="M999.3,1026.7V1036M1020.7,1026.7V1036"/><rect class="b" x="1003" y="1022.3" width="14" height="17.7"/><text x="978" y="1018">X2</text><text x="989" y="1052">12MHZ</text></g>
<g id="C97" class="p"><use href="#c" x="956" y="1052"/><text x="923.6" y="1035">C97</text><text class="big" x="924" y="1071.7">22pF</text></g>
<g id="C98" class="p"><use href="#c" x="1064.3" y="1052"/><text x="1075" y="1035">C98</text><text class="big" x="1075.7" y="1071.7">22pF</text></g>
<g id="L20" class="p"><use href="#l" x="187" y="1057"/><text x="187.4" y="1041.3">L20</text><text x="219.9" y="1044">BE0805</text></g>
<g id="L21" class="p"><use href="#l" x="187" y="1100"/><text x="187.4" y="1084">L21</text><text x="219.9" y="1087">BE0805</text></g>
<g id="L10" class="p"><use href="#l" x="187" y="1134.3"/><text x="187.4" y="1118.3">L10</text><text x="219.9" y="1121">BE0805</text></g>
<g id="note-vref">
<rect class="blk" x="501.4" y="1091" width="119.3" height="43.3" fill="#fff"/>
<text x="512.5" y="1122.7" textLength="51" lengthAdjust="spacingAndGlyphs" style="font-family:'DejaVu Sans Mono',monospace;font-weight:bold;font-size:12px;fill:#222">V=2.5V</text>
<path class="blk" d="M620,1117.3L663.6,1125"/>
<circle class="blk" cx="674.6" cy="1125.3" r="11"/>
<path class="blk" d="M666.5,1133L676.5,1115.5M673,1136L683,1118.5"/>
</g>
<g id="TU3" class="p">
<rect x="720" y="1144" width="17" height="13" fill="#fff"/>
<path class="s" d="M728.6,1132V1147M728.6,1156V1175M692,1151H722"/>
<path d="M728.6,1147L722.6,1156H734.6Z" fill="#0000ff"/><path class="b" d="M720,1144.5L723,1147H734L737,1144.5"/>
<text class="n" x="721.8" y="1134" text-anchor="middle" transform="rotate(-90 721.8 1134)">3</text><text class="n" x="721.8" y="1172.7" text-anchor="middle" transform="rotate(-90 721.8 1172.7)">2</text><text class="n" x="705.5" y="1147">1</text>
<text x="745" y="1147">TU3</text><text x="750.4" y="1164">TL431</text>
</g>
<g id="C111" class="p"><use href="#c" x="793.6" y="1155.6"/><text x="804.3" y="1147">C111</text><text x="804.3" y="1164">0.1uF</text></g>
<g id="C112" class="p"><use href="#c" x="836.8" y="1154.6"/><text x="852.9" y="1155">C112</text><text x="847.5" y="1164">0.01uF</text></g>
<g id="C124" class="p"><use href="#e" x="890.7" y="1151.7"/><text x="891.4" y="1147">C124</text><text x="891.4" y="1164">100uF/16V</text></g>
<g id="R52" class="p"><use href="#rh" x="924.3" y="1125.3"/><text x="901.8" y="1121">R52</text><text x="956" y="1121">2.2K</text></g>
<g id="U15">
<path class="s" d="M1248.3,1040H1280.7M1248.3,1048.3H1280.7M1248.3,1057H1280.7M1248.3,1065.7H1280.7M1345.7,1040H1378M1345.7,1048.3H1378M1345.7,1057H1378M1345.7,1065.7H1378"/>
<rect x="1280.7" y="1031.3" width="65" height="42.7" fill="#fff" stroke="#0000ff" stroke-width="1.5"/>
<text x="1286" y="1040">XIN</text><text x="1286" y="1048.3">XOUT</text><text x="1286" y="1057">MRA</text><text x="1286" y="1065.7">VSS</text>
<g text-anchor="end"><text x="1339" y="1040">VDD</text><text x="1339" y="1048.3">SR0</text><text x="1340" y="1057">MOUT</text><text x="1339" y="1065.7">SSON</text></g>
<g class="n"><text x="1268" y="1035.3">1</text><text x="1268" y="1044">2</text><text x="1268" y="1052.3">3</text><text x="1268" y="1061.3">4</text><text x="1353" y="1035.3">8</text><text x="1353" y="1044">7</text><text x="1353" y="1052.3">6</text><text x="1353" y="1061.3">5</text></g>
<g class="p"><text x="1291.3" y="1018">P2027</text><text x="1286.3" y="1028">U15</text></g>
</g>
<g id="R95" class="p"><use href="#rh" x="1281" y="1082.7"/><text x="1269.7" y="1094.7">R95</text><text x="1302.3" y="1094.7">NP</text></g>
<g id="R96" class="p"><use href="#rh" x="1410.7" y="1082.7"/><text x="1389" y="1095">R96</text><text x="1421.7" y="1095">NP</text></g>
<g id="C76" class="p"><use href="#c" x="1518.7" y="1069.5"/><text x="1529.3" y="1052">C76</text><text class="big" x="1530" y="1088.7">0.1u</text></g>

<g id="title-block" class="tt">
<path class="tb" d="M1595,1142.7H1984V1264H1595ZM1595,1201.7H1984M1595,1228H1984M1595,1255.3H1984M1627.7,1228V1255.3M1950.7,1228V1255.3M1811,1255.3V1264"/>
<text x="1595.7" y="1151.7" style="font-family:'Liberation Serif',serif;font-weight:bold;font-size:20px">Proview Electronics (Taiwan) Co., LTD.</text>
<text x="1606" y="1166.7" textLength="267" lengthAdjust="spacingAndGlyphs" style="font-size:12.6px">6F, NO.1, Pau-Sheng Rd., Yung-Ho City,</text>
<text x="1606" y="1180" textLength="187" lengthAdjust="spacingAndGlyphs" style="font-size:12.6px">Taipei County, Taiwan R.O.C.</text>
<text x="1606" y="1192.7" textLength="299" lengthAdjust="spacingAndGlyphs" xml:space="preserve" style="font-size:12.6px">Tel: 886-2-2231-6789   Fax: 886-2-2231-5678</text>
<text x="1596" y="1207" style="font-size:8.8px">Title</text>
<text x="1638.3" y="1219" style="font-size:16.6px">200-100-SH570</text>
<text x="1596" y="1231.7" style="font-size:8.8px">Size</text>
<text x="1638.3" y="1231.7" style="font-size:10.2px">Document Number</text>
<text x="1638.3" y="1243.7" style="font-size:14.5px">MASCOT V(A/D+Scaler)</text>
<text x="1951.7" y="1233" style="font-size:8.8px">Rev</text>
<text x="1962.3" y="1242.3" style="font-size:10px">S5</text>
<text x="1596" y="1259.5" style="font-size:8.8px">Date:</text>
<text x="1638.3" y="1259.5" style="font-size:10px">Thursday, August 29, 2002</text>
<text x="1812" y="1259.5" style="font-size:8.8px">Sheet</text>
<text x="1866.7" y="1259.5" style="font-size:8.8px">2</text>
<text x="1896.7" y="1259.5" style="font-size:8.8px">of</text>
<text x="1925" y="1259.5" style="font-size:8.8px">6</text>
</g>
</svg>
